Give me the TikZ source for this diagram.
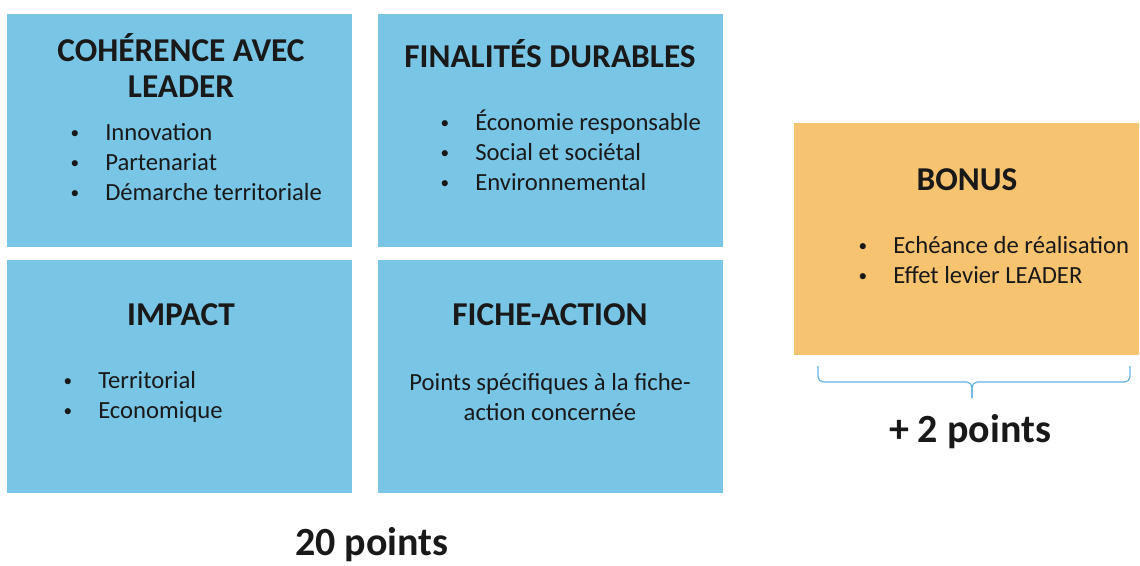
\documentclass[tikz,border=0pt]{standalone}
\usepackage{fontspec}
\usepackage{graphicx}
\setmainfont{Carlito}
\usetikzlibrary{positioning}
\definecolor{critblue}{RGB}{121,197,230}
\definecolor{bonusorange}{RGB}{246,196,112}
\definecolor{bracecol}{RGB}{95,180,222}
\definecolor{inktext}{RGB}{25,25,25}
\tikzset{crit/.style={fill=critblue,minimum width=259.1pt,minimum height=174.4pt,inner sep=0pt}}
\tikzset{bonusbox/.style={crit,fill=bonusorange}}
\tikzset{title/.style={font=\fontsize{25}{26.5}\selectfont\bfseries,text=inktext,align=center,anchor=base,inner sep=0pt}}
\tikzset{items/.style={font=\fontsize{18.5}{22.5}\selectfont,text=inktext,align=left,anchor=base west,inner sep=0pt}}
\tikzset{total/.style={font=\fontsize{30}{31}\selectfont\bfseries,text=inktext,anchor=base,inner sep=0pt}}
\tikzset{bracket/.style={draw=bracecol,line width=0.9pt,rounded corners=4pt}}
\newcommand{\itm}{\makebox[27pt][l]{\hspace{1pt}\raisebox{1.4pt}{\scalebox{0.7}{\textbullet}}}}

\begin{document}
\begin{tikzpicture}[x=0.75pt,y=-0.75pt]
    \useasboundingbox (0,0) rectangle (1140,565);

    % the four criteria
    \node[crit] (coherence) at (179.75,130.25) {};
    \node[crit,right=18.75pt of coherence] (finalites) {};
    \node[crit,below=9.75pt of coherence] (impact) {};
    \node[crit,right=18.75pt of impact] (fiche) {};

    % base of a multi-line node = its last line
    \node[title] (tcoherence) at (181,97) {COHÉRENCE AVEC\\LEADER};
    \node[items] (lcoherence) at (69,200) {\itm Innovation\\\itm Partenariat\\\itm Démarche territoriale};

    \node[title] (tfinalites) at (550,67) {FINALITÉS DURABLES};
    \node[items] (lfinalites) at (439,190) {\itm Économie responsable\\\itm Social et sociétal\\\itm Environnemental};

    \node[title] (timpact) at (181,325) {IMPACT};
    \node[items] (limpact) at (62,418) {\itm Territorial\\\itm Economique};

    \node[title] (tfiche) at (550,325) {FICHE-ACTION};
    \node[items,align=center,anchor=base] (lfiche) at (550,420) {Points spécifiques à la fiche-\\action concernée};

    \node[total] (vingt) at (372,555) {20 points};

    % bonus
    \node[bonusbox] (bonus) at (966.5,239) {};
    \node[title] (tbonus) at (967,190) {BONUS};
    \node[items] (lbonus) at (857,283) {\itm Echéance de réalisation\\\itm Effet levier LEADER};

    \coordinate (bl) at (818,366);
    \coordinate (br) at (1130,366);
    \coordinate (bmid) at (972,382);
    \coordinate (btip) at (972,398);
    \draw[bracket] (bl) -- (bl |- bmid) -- (bmid) -- (btip);
    \draw[bracket] (br) -- (br |- bmid) -- (bmid) -- (btip);
    \node[total] (deux) at (970,442) {+ 2 points};
\end{tikzpicture}
\end{document}
